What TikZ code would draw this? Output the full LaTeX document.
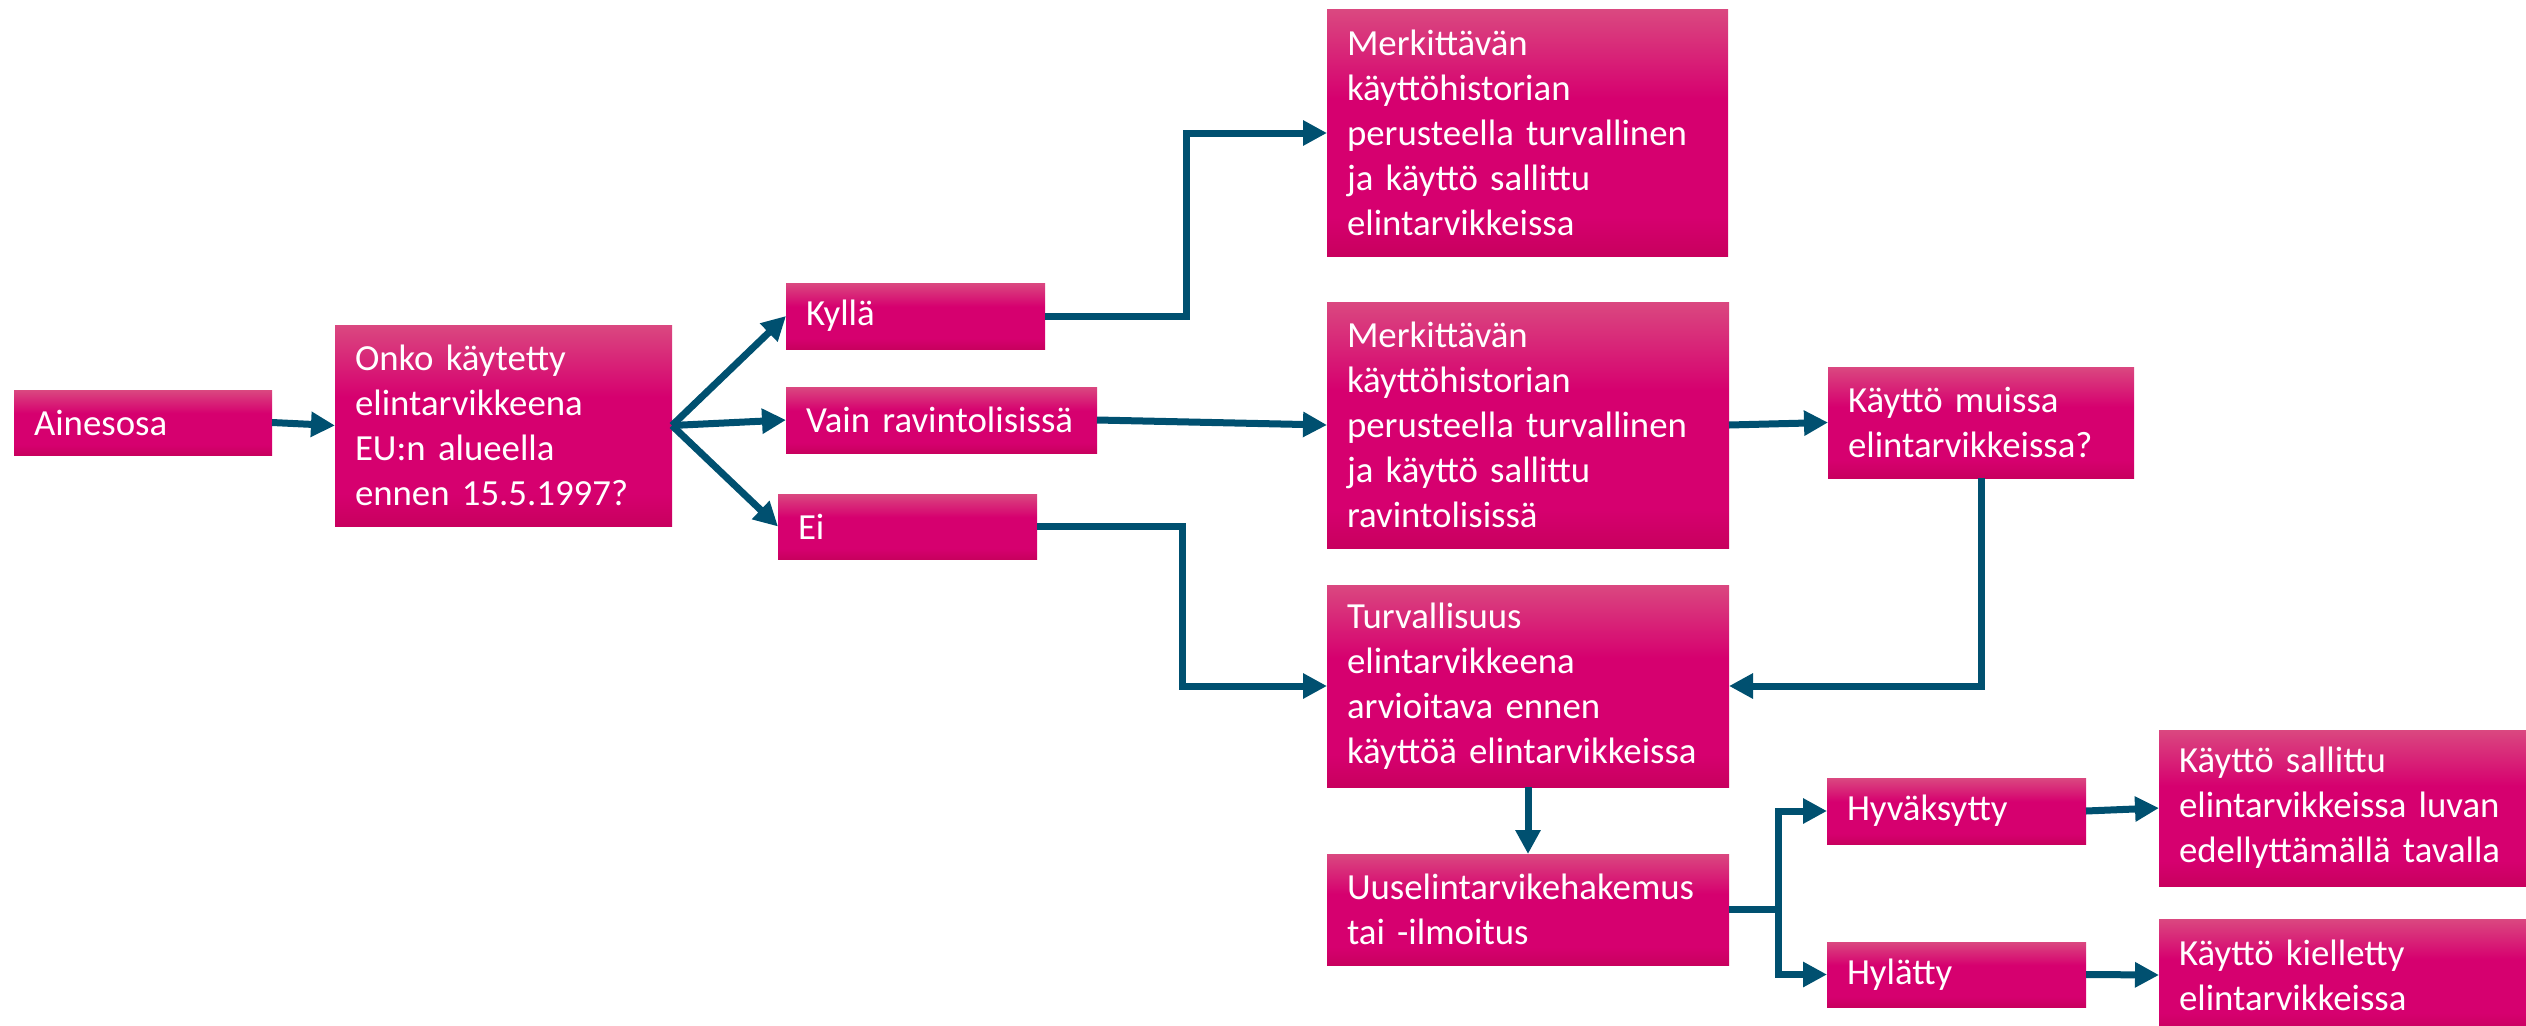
\documentclass[tikz,border=0pt]{standalone}
\usepackage{fontspec}
\setmainfont{Carlito}
\usetikzlibrary{arrows.meta}
\definecolor{ptop}{RGB}{218,72,128}
\definecolor{pmid}{RGB}{214,0,111}
\definecolor{pbot}{RGB}{200,0,94}
\definecolor{arr}{RGB}{0,80,112}
\pgfdeclareverticalshading{boxshade}{100bp}{color(0bp)=(pbot); color(25bp)=(pbot); color(33bp)=(pmid); color(57bp)=(pmid); color(75bp)=(ptop); color(100bp)=(ptop)}
\tikzset{
  pbox/.style={shading=boxshade, text=white, font=\fontsize{36.8}{45}\selectfont,
    align=left, inner xsep=20pt, inner ysep=0pt, outer sep=0pt, anchor=center},
  conn/.style={draw=arr, line width=7pt, line join=miter,
    -{Triangle[length=24pt,width=24pt]}},
  plain/.style={draw=arr, line width=7pt, line join=miter}
}
\begin{document}
\begin{tikzpicture}[x=1pt,y=-1pt]
\useasboundingbox (0,0) rectangle (2526,1025);
\node[pbox, text width=218pt, minimum height=65pt] (ain) at (143,422.5) {Ainesosa};
\node[pbox, text width=297pt, minimum height=201pt] (onko) at (503.5,425.5) {Onko käytetty\\elintarvikkeena\\EU:n alueella\\ennen 15.5.1997?};
\node[pbox, text width=219pt, minimum height=66pt] (kyl) at (915.5,316) {Kyllä};
\node[pbox, text width=271pt, minimum height=66pt] (vain) at (941.5,420) {Vain ravintolisissä};
\node[pbox, text width=219pt, minimum height=65pt] (ei) at (907.5,526.5) {Ei};
\node[pbox, text width=361pt, minimum height=246pt] (merk1) at (1527.5,133) {Merkittävän\\käyttöhistorian\\perusteella turvallinen\\ja käyttö sallittu\\elintarvikkeissa};
\node[pbox, text width=362pt, minimum height=246pt] (merk2) at (1528,425) {Merkittävän\\käyttöhistorian\\perusteella turvallinen\\ja käyttö sallittu\\ravintolisissä};
\node[pbox, text width=266pt, minimum height=111pt] (muissa) at (1981,422.5) {Käyttö muissa\\elintarvikkeissa?};
\node[pbox, text width=362pt, minimum height=202pt] (turv) at (1528,686) {Turvallisuus\\elintarvikkeena\\arvioitava ennen\\käyttöä elintarvikkeissa};
\node[pbox, text width=362pt, minimum height=111pt] (uus) at (1528,909.5) {Uuselintarvikehakemus\\tai -ilmoitus};
\node[pbox, text width=219pt, minimum height=66pt] (hyv) at (1956.5,811) {Hyväksytty};
\node[pbox, text width=219pt, minimum height=65pt] (hyl) at (1956.5,974.5) {Hylätty};
\node[pbox, text width=327pt, minimum height=156pt] (sall) at (2342.5,808) {Käyttö sallittu\\elintarvikkeissa luvan\\edellyttämällä tavalla};
\node[pbox, text width=327pt, minimum height=112pt] (kiel) at (2342.5,975) {Käyttö kielletty\\elintarvikkeissa};
\coordinate (k1) at (1186,316);
\coordinate (e1) at (1182,526.5);
\coordinate (br) at (1778,909.5);
\draw[conn] (ain.east) -- (onko.west);
\draw[conn] (onko.east) -- (kyl.west);
\draw[conn] (onko.east) -- (vain.west);
\draw[conn] (onko.east) -- (ei.west);
\draw[conn] (kyl.east) -- (k1) |- (merk1.west);
\draw[conn] (vain.east) -- (merk2.west);
\draw[conn] (ei.east) -- (e1) |- (turv.west);
\draw[conn] (merk2.east) -- (muissa.west);
\draw[conn] (muissa.south) |- (turv.east);
\draw[conn] (turv.south) -- (uus.north);
\draw[plain] (uus.east) -- (br);
\draw[conn] (br) |- (hyv.west);
\draw[conn] (br) |- (hyl.west);
\draw[conn] (hyv.east) -- (sall.west);
\draw[conn] (hyl.east) -- (kiel.west);
\end{tikzpicture}
\end{document}
